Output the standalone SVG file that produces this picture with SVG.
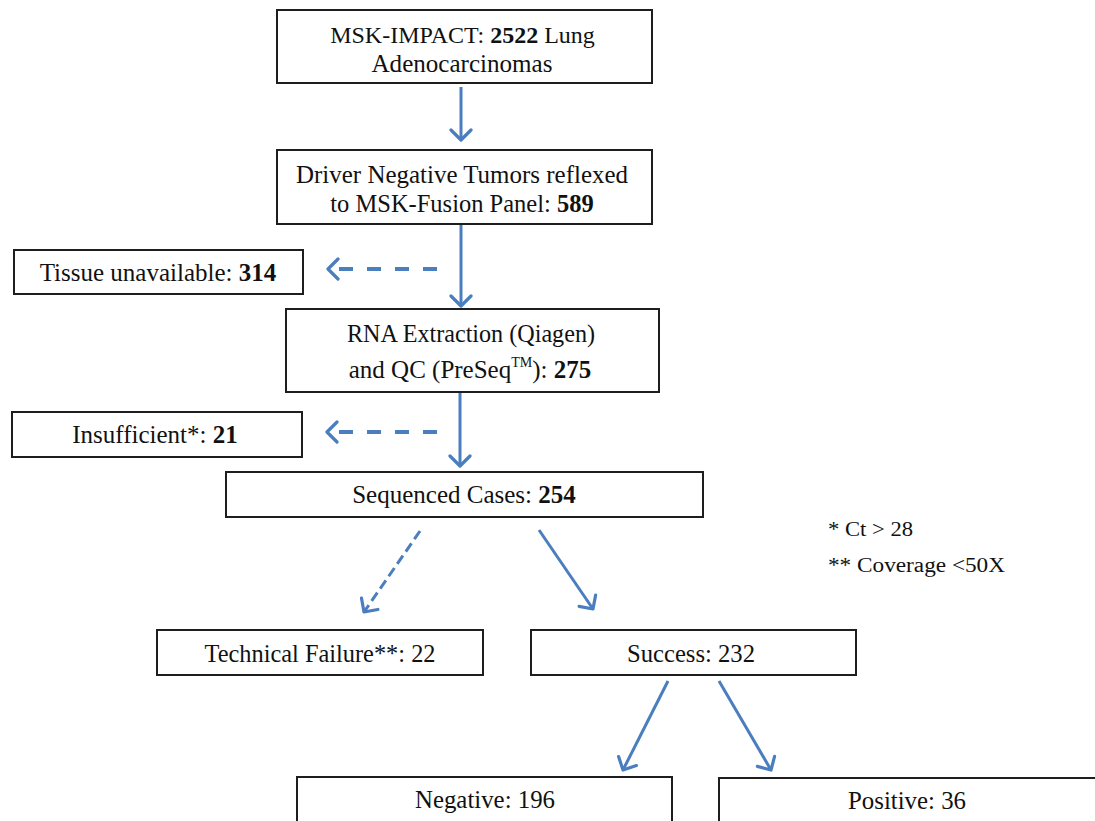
<svg xmlns="http://www.w3.org/2000/svg" width="1095" height="821" viewBox="0 0 1095 821">
<defs>
<style>
.box{fill:#fff;stroke:#1e1e1e;stroke-width:2}
.t{font-family:"Liberation Serif","DejaVu Serif",serif;font-size:25px;fill:#111;text-anchor:middle}
.n{font-family:"Liberation Serif","DejaVu Serif",serif;font-size:20px;fill:#111}
.b{font-weight:bold}
.c{stroke:#4a7ebf;stroke-width:3;fill:none;stroke-linecap:butt}
.dh{stroke-width:4;stroke-dasharray:14 14}
.dd{stroke-dasharray:10 5}
</style>
<marker id="ah" viewBox="0 0 24 24" refX="20" refY="12" markerWidth="24" markerHeight="24" orient="auto" markerUnits="userSpaceOnUse">
<path d="M10,2 L20,12 L10,22" fill="none" stroke="#4a7ebf" stroke-width="3.2" stroke-linecap="round" stroke-linejoin="round"/>
</marker>
</defs>
<rect width="1095" height="821" fill="#fff"/>
<g id="connectors">
<line class="c" x1="461" y1="87" x2="461" y2="140" marker-end="url(#ah)"/>
<line class="c" x1="461" y1="225" x2="461" y2="306" marker-end="url(#ah)"/>
<line class="c dh" x1="437" y1="269" x2="328" y2="269" marker-end="url(#ah)"/>
<line class="c" x1="460" y1="393" x2="460" y2="466" marker-end="url(#ah)"/>
<line class="c dh" x1="437" y1="432" x2="327" y2="432" marker-end="url(#ah)"/>
<line class="c dd" x1="420" y1="531" x2="364" y2="612" marker-end="url(#ah)"/>
<line class="c" x1="539" y1="530" x2="593" y2="609" marker-end="url(#ah)"/>
<line class="c" x1="668" y1="681" x2="623" y2="770" marker-end="url(#ah)"/>
<line class="c" x1="719" y1="681" x2="771" y2="770" marker-end="url(#ah)"/>
</g>
<g id="n1"><rect class="box" x="277" y="10" width="375" height="73"/>
<text class="t" x="462.5" y="43" style="font-size:24px">MSK-IMPACT: <tspan class="b">2522</tspan> Lung</text>
<text class="t" x="462" y="72" textLength="181" lengthAdjust="spacingAndGlyphs">Adenocarcinomas</text></g>
<g id="n2"><rect class="box" x="277" y="150" width="375" height="74"/>
<text class="t" x="462" y="183" textLength="332" lengthAdjust="spacingAndGlyphs">Driver Negative Tumors reflexed</text>
<text class="t" x="462" y="212" style="font-size:24.5px">to MSK-Fusion Panel: <tspan class="b">589</tspan></text></g>
<g id="n3"><rect class="box" x="14" y="250" width="289" height="44"/>
<text class="t" x="158" y="281">Tissue unavailable: <tspan class="b">314</tspan></text></g>
<g id="n4"><rect class="box" x="286" y="309" width="373" height="83"/>
<text class="t" x="471" y="342" textLength="248" lengthAdjust="spacingAndGlyphs">RNA Extraction (Qiagen)</text>
<text class="t" x="470" y="378">and QC (PreSeq<tspan font-size="14" dy="-11">TM</tspan><tspan dy="11">): </tspan><tspan class="b">275</tspan></text></g>
<g id="n5"><rect class="box" x="12" y="412" width="290" height="45"/>
<text class="t" x="155" y="443">Insufficient*: <tspan class="b">21</tspan></text></g>
<g id="n6"><rect class="box" x="226" y="472" width="477" height="45"/>
<text class="t" x="464" y="503">Sequenced Cases: <tspan class="b">254</tspan></text></g>
<g id="n7"><rect class="box" x="157" y="630" width="326" height="45"/>
<text class="t" x="320" y="662" textLength="231" lengthAdjust="spacingAndGlyphs">Technical Failure**: 22</text></g>
<g id="n8"><rect class="box" x="531" y="630" width="325" height="45"/>
<text class="t" x="691" y="662" textLength="128" lengthAdjust="spacingAndGlyphs">Success: 232</text></g>
<g id="n9"><rect class="box" x="297" y="777" width="375" height="50"/>
<text class="t" x="485" y="808" textLength="140" lengthAdjust="spacingAndGlyphs">Negative: 196</text></g>
<g id="n10"><rect class="box" x="719" y="778" width="390" height="50"/>
<text class="t" x="907" y="809" textLength="118" lengthAdjust="spacingAndGlyphs">Positive: 36</text></g>
<g id="notes">
<text class="n" x="828" y="536" textLength="85" lengthAdjust="spacingAndGlyphs">* Ct &gt; 28</text>
<text class="n" x="828" y="572" textLength="177" lengthAdjust="spacingAndGlyphs">** Coverage &lt;50X</text>
</g>
</svg>
